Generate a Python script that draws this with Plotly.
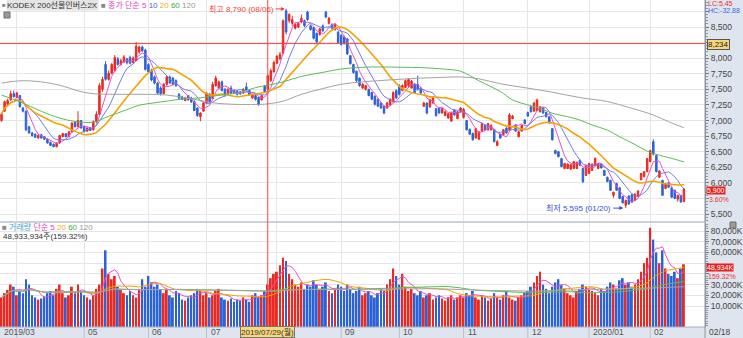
import numpy as np
import pandas as pd
import plotly.graph_objects as go

# ---------------- data ----------------
holidays = ["2019-05-01", "2019-05-06", "2019-06-06", "2019-08-15", "2019-09-12", "2019-09-13",
            "2019-10-03", "2019-10-09", "2019-12-25", "2019-12-31", "2020-01-01", "2020-01-24", "2020-01-27"]

opens = [
    7000, 7150, 7260, 7330, 7430, 7370, 7400, 7200, 7150, 6900,
    6800, 6780, 6720, 6770, 6740, 6700, 6650, 6620, 6580, 6640,
    6740, 6790, 6740, 6820, 6970, 6900, 7000, 6900, 6830, 6880,
    6850, 6990, 7100, 7500, 7900, 7660, 7760, 7800, 7990, 7900,
    7940, 7990, 8010, 7930, 7960, 8100, 8180, 8130, 7900, 7800,
    7700, 7600, 7520, 7430, 7580, 7700, 7680, 7640, 7420, 7380,
    7320, 7400, 7360, 7310, 7200, 7060, 7150, 7280, 7420, 7350,
    7560, 7520, 7620, 7500, 7430, 7520, 7480, 7470, 7460, 7440,
    7540, 7480, 7360, 7400, 7370, 7330, 7550, 7500, 7640, 7780,
    7920, 7990, 8080, 8760, 8600, 8560, 8480, 8500, 8580, 8600,
    8740, 8520, 8490, 8400, 8380, 8520, 8740, 8560, 8540, 8460,
    8420, 8370, 8340, 8310, 8040, 7900, 7790, 7680, 7520, 7500,
    7500, 7450, 7390, 7340, 7280, 7230, 7200, 7250, 7300, 7480,
    7560, 7480, 7530, 7560, 7520, 7580, 7580, 7520, 7230, 7280,
    7220, 7280, 7190, 7200, 7120, 7080, 7040, 6990, 7170, 7030,
    7140, 7050, 7000, 6860, 6790, 6720, 6700, 6830, 6920, 6850,
    6850, 6850, 6600, 6780, 6770, 6880, 6850, 7030, 6930, 6740,
    6830, 7010, 7130, 7220, 7150, 7160, 7140, 7200, 7130, 7060,
    6870, 6520, 6500, 6390, 6230, 6230, 6220, 6230, 6230, 6360,
    6230, 6120, 6150, 6200, 6280, 6230, 6300, 6200, 6090, 6040,
    5800, 5990, 5920, 5780, 5640, 5790, 5810, 5720, 5790, 6050,
    6100, 6180, 6340, 6660, 6440, 6090, 6040, 5910, 6000, 5920,
    5880, 5740, 5800, 5700,
]
highs = [
    7120, 7320, 7350, 7480, 7480, 7460, 7410, 7220, 7160, 6910,
    6820, 6790, 6780, 6790, 6750, 6710, 6660, 6630, 6650, 6770,
    6800, 6800, 6830, 6970, 6980, 7150, 7010, 6910, 6890, 6890,
    7000, 7150, 7600, 7700, 7950, 7800, 7920, 8050, 8020, 7990,
    8050, 8000, 8040, 8030, 8260, 8200, 8200, 8150, 7920, 7830,
    7720, 7620, 7550, 7600, 7720, 7720, 7700, 7660, 7440, 7400,
    7380, 7410, 7380, 7320, 7210, 7130, 7300, 7460, 7440, 7620,
    7720, 7640, 7640, 7520, 7520, 7560, 7500, 7490, 7470, 7520,
    7610, 7500, 7430, 7420, 7380, 7410, 7570, 7740, 7830, 7960,
    8050, 8100, 8620, 8790, 8720, 8680, 8560, 8580, 8700, 8620,
    8760, 8540, 8500, 8410, 8480, 8540, 8760, 8660, 8560, 8560,
    8430, 8380, 8360, 8320, 8050, 7910, 7800, 7690, 7600, 7570,
    7510, 7460, 7400, 7350, 7290, 7240, 7300, 7360, 7470, 7500,
    7580, 7580, 7660, 7680, 7650, 7600, 7720, 7540, 7300, 7290,
    7350, 7380, 7200, 7210, 7200, 7160, 7120, 7140, 7180, 7150,
    7220, 7200, 7010, 6870, 6810, 6880, 6830, 6970, 6930, 6960,
    6940, 6860, 6690, 6790, 6860, 6890, 7120, 7090, 6940, 6830,
    6930, 7020, 7140, 7230, 7300, 7350, 7230, 7210, 7140, 7070,
    6880, 6530, 6510, 6400, 6320, 6310, 6300, 6350, 6340, 6370,
    6240, 6290, 6320, 6310, 6410, 6320, 6310, 6210, 6100, 6050,
    5860, 6000, 5930, 5790, 5730, 5800, 5820, 5830, 5880, 6160,
    6190, 6400, 6530, 6700, 6450, 6200, 6050, 6000, 6010, 5930,
    5890, 5810, 5810, 5920,
]
lows = [
    6980, 7140, 7240, 7320, 7370, 7360, 7210, 7130, 6830, 6790,
    6740, 6720, 6710, 6710, 6690, 6630, 6590, 6570, 6570, 6630,
    6730, 6730, 6730, 6810, 6890, 6890, 6870, 6810, 6820, 6830,
    6840, 6960, 7080, 7460, 7640, 7640, 7740, 7780, 7880, 7880,
    7920, 7900, 7900, 7910, 7950, 8070, 8100, 7800, 7760, 7630,
    7580, 7420, 7400, 7420, 7560, 7590, 7560, 7540, 7340, 7330,
    7310, 7320, 7280, 7150, 7060, 6990, 7140, 7260, 7280, 7340,
    7540, 7500, 7470, 7380, 7420, 7420, 7430, 7400, 7410, 7430,
    7480, 7400, 7350, 7320, 7240, 7320, 7450, 7490, 7620, 7770,
    7900, 7970, 8060, 8380, 8560, 8520, 8460, 8480, 8560, 8500,
    8600, 8440, 8300, 8240, 8360, 8420, 8640, 8540, 8460, 8440,
    8240, 8200, 8220, 8050, 7900, 7750, 7620, 7540, 7510, 7480,
    7390, 7330, 7240, 7220, 7190, 7100, 7190, 7240, 7290, 7350,
    7400, 7470, 7520, 7540, 7510, 7430, 7480, 7420, 7220, 7100,
    7200, 7270, 7060, 7110, 7110, 7070, 7030, 6980, 7080, 7020,
    7130, 7030, 6840, 6770, 6680, 6710, 6690, 6820, 6840, 6840,
    6840, 6650, 6590, 6710, 6760, 6790, 6840, 7020, 6820, 6730,
    6820, 6940, 7060, 7130, 7140, 7150, 7130, 7110, 7050, 6950,
    6680, 6460, 6410, 6250, 6220, 6220, 6210, 6220, 6220, 6270,
    6000, 6110, 6140, 6190, 6270, 6220, 6230, 6110, 6010, 5870,
    5760, 5870, 5740, 5670, 5595, 5650, 5680, 5710, 5780, 6040,
    6090, 6170, 6330, 6440, 6170, 6080, 5790, 5900, 5920, 5760,
    5740, 5700, 5680, 5690,
]
closes = [
    7100, 7300, 7320, 7430, 7380, 7440, 7220, 7150, 6850, 6800,
    6760, 6730, 6760, 6720, 6700, 6640, 6600, 6580, 6640, 6760,
    6790, 6740, 6820, 6960, 6900, 7000, 6880, 6820, 6880, 6840,
    6980, 7100, 7560, 7660, 7660, 7760, 7900, 8010, 7900, 7960,
    8020, 7930, 7920, 8000, 8190, 8180, 8120, 7820, 7780, 7650,
    7600, 7440, 7430, 7580, 7700, 7600, 7580, 7560, 7360, 7340,
    7360, 7330, 7300, 7160, 7080, 7120, 7280, 7440, 7300, 7580,
    7680, 7620, 7480, 7400, 7500, 7440, 7440, 7420, 7430, 7500,
    7490, 7410, 7420, 7340, 7250, 7400, 7460, 7720, 7800, 7930,
    8030, 8060, 8600, 8420, 8700, 8620, 8540, 8560, 8640, 8520,
    8620, 8460, 8320, 8260, 8470, 8440, 8660, 8640, 8480, 8540,
    8250, 8220, 8240, 8070, 7910, 7770, 7640, 7560, 7580, 7560,
    7400, 7340, 7260, 7230, 7200, 7120, 7280, 7340, 7450, 7360,
    7420, 7560, 7640, 7660, 7630, 7440, 7500, 7440, 7280, 7120,
    7330, 7360, 7080, 7120, 7190, 7140, 7110, 7120, 7090, 7140,
    7200, 7180, 6850, 6780, 6690, 6870, 6820, 6950, 6850, 6950,
    6920, 6660, 6660, 6720, 6850, 6800, 7090, 7070, 6830, 6820,
    6920, 6950, 7070, 7140, 7280, 7330, 7220, 7120, 7060, 6960,
    6690, 6470, 6420, 6260, 6310, 6300, 6290, 6340, 6330, 6280,
    6020, 6280, 6310, 6300, 6390, 6310, 6240, 6120, 6020, 5880,
    5850, 5880, 5750, 5680, 5720, 5660, 5690, 5820, 5870, 6150,
    6180, 6390, 6520, 6460, 6180, 6190, 5800, 5990, 5930, 5770,
    5750, 5800, 5695, 5900,
]
volumes = [  # thousand shares
    18000, 22000, 25000, 30000, 28000, 20000, 24000, 22000, 35000, 30000,
    20000, 18000, 16000, 17000, 19000, 22000, 24000, 20000, 26000, 30000,
    22000, 18000, 20000, 28000, 22000, 30000, 24000, 20000,
    18000, 16000, 20000, 26000, 30000, 45000, 62000, 40000, 35000, 38000,
    28000, 25000, 22000, 20000, 24000, 20000, 18000, 26000, 35000, 28000,
    38000, 32000, 28000, 30000, 25000, 22000, 26000, 20000, 18000, 24000,
    22000, 16000, 15000, 18000, 20000, 22000, 26000, 24000, 20000,
    22000, 18000, 20000, 24000, 26000, 18000, 16000, 15000, 17000, 14000,
    16000, 15000, 18000, 16000, 14000, 20000, 22000, 18000, 20000, 24000,
    30000, 36000, 40000,
    42000, 48000, 55000, 52000, 40000, 35000, 30000, 28000, 32000, 26000,
    30000, 28000, 34000, 30000, 26000, 28000, 32000, 24000, 22000, 26000, 30000,
    28000, 24000, 30000, 26000, 22000, 24000, 28000, 20000, 22000, 24000,
    20000, 18000, 22000, 26000, 24000, 30000, 35000, 45000, 38000,
    30000, 40000, 28000, 24000, 26000, 22000, 20000, 24000, 18000, 20000,
    22000, 16000, 18000, 20000, 17000, 15000, 18000, 20000, 16000, 18000, 20000,
    18000, 22000, 20000, 24000, 18000, 16000, 20000, 18000, 15000, 17000,
    22000, 18000, 16000, 20000, 24000, 18000, 16000, 15000, 18000, 20000, 22000,
    24000, 28000, 32000, 38000, 42000, 30000, 26000, 22000, 28000, 32000,
    35000, 30000, 26000, 22000, 20000, 18000, 24000, 26000, 30000, 28000,
    26000, 24000, 22000, 20000, 26000, 24000, 28000, 32000, 30000, 26000,
    34000, 36000, 30000, 32000, 28000, 30000, 35000, 42000, 50000, 55000,
    83000, 72000, 60000, 50000, 62000, 45000, 40000, 38000, 42000, 36000,
    45000, 48934,
]

# moving averages 60 / 120 (day index, price)
ma60_idx = [0, 6, 13, 19, 24, 30, 35, 41, 45, 50, 54, 58, 65, 71, 78, 83, 87, 92, 98, 105,
            111, 118, 124, 131, 137, 144, 150, 156, 163, 167, 172, 176, 180, 185, 189, 193,
            198, 202, 207, 211, 215, 220, 223]
ma60_val = [7409, 7300, 7148, 7039, 6985, 6974, 7067, 7175, 7246, 7284, 7311, 7338, 7365, 7403,
            7450, 7528, 7566, 7620, 7707, 7772, 7827, 7854, 7859, 7854, 7849, 7827, 7790, 7637,
            7465, 7331, 7250, 7196, 7116, 7062, 7008, 6927, 6847, 6739, 6616, 6508, 6444, 6379, 6336]
ma120_idx = [0, 6, 13, 19, 26, 30, 37, 43, 48, 54, 60, 65, 69, 76, 83, 87, 92, 98, 105, 111,
             118, 124, 131, 137, 144, 150, 156, 163, 172, 180, 189, 198, 206, 213, 218, 223]
ma120_val = [7600, 7637, 7620, 7566, 7463, 7430, 7420, 7420, 7420, 7409, 7365, 7322, 7284, 7260,
             7257, 7267, 7311, 7420, 7512, 7582, 7620, 7642, 7664, 7680, 7691, 7700, 7669, 7590,
             7519, 7454, 7368, 7304, 7196, 7089, 6981, 6884]

month_labels = ["2019/03", "05", "06", "07", "09", "10", "11", "12", "2020/01", "02"]
month_keys = ["2019-03", "2019-05", "2019-06", "2019-07", "2019-09", "2019-10", "2019-11",
              "2019-12", "2020-01", "2020-02"]

price_ticks = [5500, 5750, 6000, 6250, 6500, 6750, 7000, 7250, 7500, 7750, 8000, 8250, 8500, 8750]
price_hidden = [5750, 8250, 8750]          # covered by the value boxes in the reference
vol_ticks = [10000, 20000, 30000, 40000, 50000, 60000, 70000, 80000]
vol_hidden = [40000, 50000]

cross_idx_date = "2019-07-29"
cross_price = 8234
high_date, high_price = "2019-08-06", 8790
low_date, low_price = "2020-01-20", 5595

# ---------------- derived ----------------
dates = pd.bdate_range("2019-03-25", "2020-02-18")
dates = dates[~dates.isin(pd.to_datetime(holidays))]
n = len(dates)
assert n == len(opens) == len(highs) == len(lows) == len(closes) == len(volumes), \
    (n, len(opens), len(highs), len(lows), len(closes), len(volumes))
x = np.arange(n)
c = pd.Series(closes, dtype=float)
v = pd.Series(volumes, dtype=float)
ym = dates.strftime("%Y-%m")
month_start = [int(np.argmax(ym == k)) for k in month_keys]
all_month_start = [i for i in range(n) if i == 0 or ym[i] != ym[i - 1]][1:]
cross_i = int(np.where(dates == pd.Timestamp(cross_idx_date))[0][0])
high_i = int(np.where(dates == pd.Timestamp(high_date))[0][0])
low_i = int(np.where(dates == pd.Timestamp(low_date))[0][0])

RED = "#ea2a22"
BLUE = "#2c62d8"
C5, C10, C20, C60, C120 = "#e84fd0", "#6f7de6", "#f5a300", "#5cbc5c", "#a3a3a3"
GRID = "#e6e6e6"
PANEL = "#dfe5ee"

W, H = 743, 338
R_M, B_M = 38, 11
PW, PH = W - R_M, H - B_M


def py(ypix):
    return (PH - ypix) / PH


def pxx(xpix):
    return xpix / PW


PRICE_TOP, PRICE_BOT = 0, 221
VOL_TOP, VOL_BOT = 223, PH
# price scale: 8500 at y=27, 16.04 per px
p_hi = 8500 + 27 * 16.04
p_lo = 8500 - (PRICE_BOT - 27) * 16.04
# volume scale: 80,000K at y=231, 10,000K at y=306
kpp = 70000 / 75.0
v_hi = 80000 + (231 - VOL_TOP) * kpp
v_lo = 10000 - (VOL_BOT - 306) * kpp

fig = go.Figure()

# candles
fig.add_trace(go.Candlestick(
    x=x, open=opens, high=highs, low=lows, close=closes, xaxis="x", yaxis="y",
    increasing=dict(line=dict(color=RED, width=1), fillcolor=RED),
    decreasing=dict(line=dict(color=BLUE, width=1), fillcolor=BLUE),
    whiskerwidth=0, hoverinfo="skip"))

for k, col, w in [(5, C5, 1), (10, C10, 1), (20, C20, 1.6)]:
    fig.add_trace(go.Scatter(x=x, y=c.rolling(k, min_periods=1).mean(), mode="lines",
                             line=dict(color=col, width=w), xaxis="x", yaxis="y", hoverinfo="skip"))
fig.add_trace(go.Scatter(x=ma60_idx, y=ma60_val, mode="lines", line=dict(color=C60, width=1, shape="spline"),
                         xaxis="x", yaxis="y", hoverinfo="skip"))
fig.add_trace(go.Scatter(x=ma120_idx, y=ma120_val, mode="lines", line=dict(color=C120, width=1, shape="spline"),
                         xaxis="x", yaxis="y", hoverinfo="skip"))

# volume
vcol = [RED if cl >= op else BLUE for op, cl in zip(opens, closes)]
fig.add_trace(go.Bar(x=x, y=v - v_lo, base=v_lo, marker=dict(color=vcol, line=dict(width=0)),
                     width=0.62, xaxis="x2", yaxis="y2", hoverinfo="skip"))
for k, col in [(5, C5), (20, C20), (60, C60), (120, C120)]:
    fig.add_trace(go.Scatter(x=x, y=v.rolling(k, min_periods=1).mean(), mode="lines",
                             line=dict(color=col, width=1), xaxis="x2", yaxis="y2", hoverinfo="skip"))

xr = [-0.5, -0.5 + PW / 3.06]
common_x = dict(range=xr, showticklabels=False, tickvals=all_month_start, showgrid=True, gridcolor=GRID,
                gridwidth=1, zeroline=False, showline=False, ticks="", fixedrange=True)
fig.update_layout(
    width=W, height=H, margin=dict(l=0, r=R_M, t=0, b=B_M),
    paper_bgcolor=PANEL, plot_bgcolor="white", showlegend=False, hovermode=False,
    font=dict(family="Liberation Sans, Arial, sans-serif", size=9, color="#333"),
    xaxis=dict(domain=[0, 1], anchor="y", rangeslider=dict(visible=False), **common_x),
    xaxis2=dict(domain=[0, 1], anchor="y2", matches="x", **common_x),
    yaxis=dict(domain=[py(PRICE_BOT), 1], range=[p_lo, p_hi], side="right",
               tickvals=price_ticks, ticktext=["" if t in price_hidden else f"{t:,}" for t in price_ticks],
               showgrid=True, gridcolor=GRID, zeroline=False, ticks="outside", ticklen=3,
               tickcolor="#777", tickfont=dict(size=8.5, color="#444"),
               minor=dict(ticks="outside", ticklen=2, dtick=50, tickcolor="#999", showgrid=False),
               showline=True, linecolor="#8c96a3", fixedrange=True),
    yaxis2=dict(domain=[0, py(VOL_TOP)], range=[v_lo, v_hi], side="right",
                tickvals=vol_ticks, ticktext=["" if t in vol_hidden else f"{t:,}K" for t in vol_ticks],
                showgrid=True, gridcolor=GRID, zeroline=False, ticks="outside", ticklen=3,
                tickcolor="#777", tickfont=dict(size=8.5, color="#444"),
                minor=dict(ticks="outside", ticklen=2, dtick=2000, tickcolor="#999", showgrid=False),
                showline=True, linecolor="#8c96a3", fixedrange=True),
)

shapes = []
# panel separator & borders
shapes.append(dict(type="line", xref="paper", yref="paper", x0=0, x1=1, y0=py(222), y1=py(222),
                   line=dict(color="#b8bec8", width=1)))
shapes.append(dict(type="line", xref="paper", yref="paper", x0=0, x1=1, y0=0, y1=0,
                   line=dict(color="#a8b0bc", width=1)))
shapes.append(dict(type="line", xref="paper", yref="paper", x0=1, x1=1, y0=-B_M / PH, y1=1,
                   line=dict(color="#8c96a3", width=1)))
# small separators in the date strip
for i in all_month_start:
    shapes.append(dict(type="line", xref="x", yref="paper", x0=i, x1=i, y0=0, y1=-B_M / PH,
                       line=dict(color="#b9c1cc", width=1)))
# crosshair
shapes.append(dict(type="line", xref="x", yref="paper", x0=cross_i, x1=cross_i, y0=0, y1=1,
                   line=dict(color="#f24848", width=1)))
shapes.append(dict(type="line", xref="paper", yref="y", x0=0, x1=1, y0=cross_price, y1=cross_price,
                   line=dict(color="#f24848", width=1)))
# little panel icons
for (ix, iy) in [(4, 12), (730, 222)]:
    shapes.append(dict(type="rect", xref="paper", yref="paper", x0=pxx(ix), x1=pxx(ix + 6),
                       y0=py(iy + 6), y1=py(iy), fillcolor="#9a9a9a", line=dict(color="#707070", width=1)))
fig.update_layout(shapes=shapes)

ann = []
KR = "Liberation Sans, Noto Sans CJK KR, sans-serif"


def text(xp, yp, s, color="#333", size=8, xanchor="left", font=None, **kw):
    ann.append(dict(xref="paper", yref="paper", x=pxx(xp), y=py(yp), text=s, showarrow=False,
                    xanchor=xanchor, yanchor="middle", font=dict(size=size, color=color, family=font or KR), **kw))


# top legend
text(0, 5, "■", color="#8a8a8a", size=6)
text(6, 5, "KODEX 200선물인버스2X", color="#333", size=8, bgcolor="#e4e4e4", borderpad=0)
text(99, 5, "■ <span style='color:#e040c8'>종가 단순 5</span> <span style='color:#4b5fe0'>10</span> "
            "<span style='color:#f0b000'>20</span> <span style='color:#3cae3c'>60</span> "
            "<span style='color:#999'>120</span>", color="#8a8a8a", size=8)
# volume legend
text(0, 227, "■ <span style='color:#38a6c8'>거래량</span> <span style='color:#e040c8'>단순 5</span> "
             "<span style='color:#f0b000'>20</span> <span style='color:#3cae3c'>60</span> "
             "<span style='color:#999'>120</span>", color="#8a8a8a", size=8)
text(1, 236, "48,933,934주(159.32%)", color="#333", size=8)

# right column labels
text(706, 4, "LC:5.45", color="#e83030", size=7, font="Liberation Sans")
text(706, 11, "HC:-32.88", color="#3a6ae0", size=7, font="Liberation Sans")
text(707, 44, f"{cross_price:,}", color="#222", size=8, font="Liberation Sans",
     bgcolor="#f7d77a", bordercolor="#555", borderwidth=1, borderpad=0)
text(706, 190.5, f"{closes[-1]:,}", color="white", size=7, font="Liberation Sans",
     bgcolor="#e8211e", borderpad=0)
text(707, 199.5, "3.60%", color="#e83030", size=7, font="Liberation Sans")
text(706, 267.5, f"{volumes[-1]:,}K", color="white", size=7, font="Liberation Sans",
     bgcolor="#e8211e", borderpad=0)
text(706, 276.5, "159.32%", color="#e83030", size=7, font="Liberation Sans")
text(707, 332, "02/18", color="#444", size=8.5, font="Liberation Sans")

# date labels
for lab, i in zip(month_labels, month_start):
    xi = -0.5 if lab == "2019/03" else i
    ann.append(dict(xref="x", yref="paper", x=xi, y=py(332), text=lab, showarrow=False, xanchor="left",
                    yanchor="middle", xshift=2, font=dict(size=8.5, color="#555", family="Liberation Sans")))
ann.append(dict(xref="x", yref="paper", x=cross_i, y=py(332), text="2019/07/29(월)", showarrow=False,
                xanchor="center", yanchor="middle", bgcolor="#f7d77a", bordercolor="#777", borderwidth=1,
                borderpad=0, font=dict(size=8, color="#333", family=KR)))

# high / low markers
ann.append(dict(xref="x", yref="y", x=high_i - 0.4, y=high_price, ax=-9, ay=0, text="최고 8,790 (08/06)",
                showarrow=True, arrowhead=2, arrowsize=0.8, arrowwidth=1, arrowcolor="#f04040",
                xanchor="right", yanchor="middle", font=dict(size=8, color="#f04040", family=KR)))
ann.append(dict(xref="x", yref="y", x=low_i - 0.8, y=low_price, ax=-10, ay=0, text="최저 5,595 (01/20)",
                showarrow=True, arrowhead=2, arrowsize=0.8, arrowwidth=1, arrowcolor="#3a4ee0",
                xanchor="right", yanchor="middle", font=dict(size=8, color="#3a4ee0", family=KR)))

fig.update_layout(annotations=ann)
fig.write_html("out.html")
